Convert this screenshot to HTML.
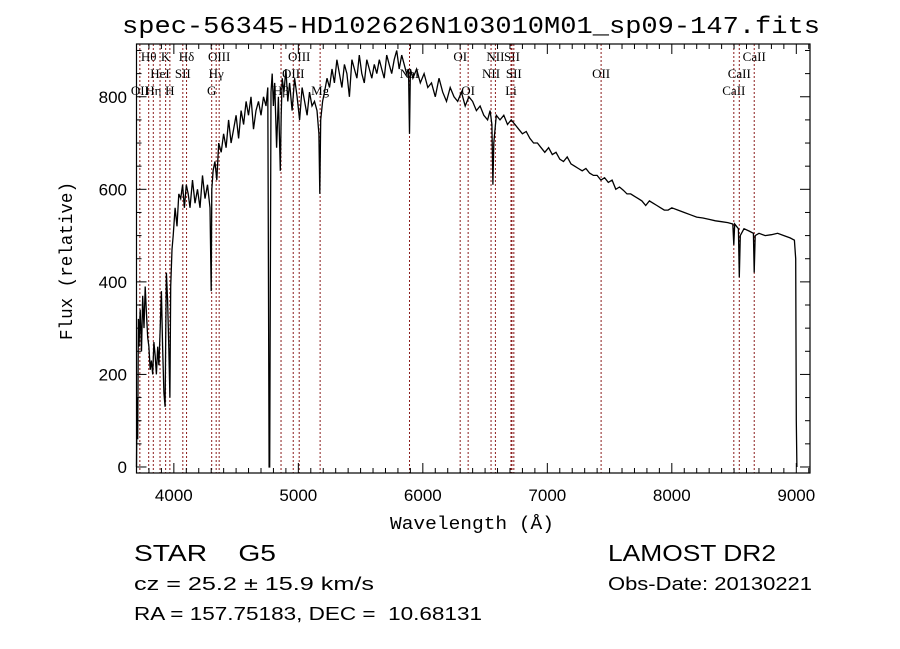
<!DOCTYPE html>
<html><head><meta charset="utf-8"><style>
html,body{margin:0;padding:0;background:#fff;width:900px;height:649px;overflow:hidden}
svg{display:block}
text{white-space:pre}
</style></head><body>
<svg id="chart" width="900" height="649" viewBox="0 0 900 649" xmlns="http://www.w3.org/2000/svg" xml:space="preserve">
<rect x="0" y="0" width="900" height="649" fill="#fff"/>
<text x="122" y="33" font-family="Liberation Mono, monospace" font-size="24" textLength="698" lengthAdjust="spacingAndGlyphs">spec-56345-HD102626N103010M01_sp09-147.fits</text>
<g id="lines"></g>
<g id="spec"></g>
<g id="axes"></g>
<text x="390" y="529" font-family="Liberation Mono, monospace" font-size="18" textLength="164" lengthAdjust="spacingAndGlyphs">Wavelength (Å)</text>
<text transform="translate(72,340) rotate(-90)" font-family="Liberation Mono, monospace" font-size="18" textLength="158" lengthAdjust="spacingAndGlyphs">Flux (relative)</text>
<text x="134" y="561" font-family="Liberation Sans Narrow, Liberation Sans, sans-serif" font-size="23" textLength="142" lengthAdjust="spacingAndGlyphs">STAR    G5</text>
<text x="608" y="561" font-family="Liberation Sans Narrow, Liberation Sans, sans-serif" font-size="23" textLength="168" lengthAdjust="spacingAndGlyphs">LAMOST DR2</text>
<text x="134" y="590" font-family="Liberation Sans Narrow, Liberation Sans, sans-serif" font-size="18" textLength="240" lengthAdjust="spacingAndGlyphs">cz = 25.2 ± 15.9 km/s</text>
<text x="608" y="590" font-family="Liberation Sans Narrow, Liberation Sans, sans-serif" font-size="18" textLength="204" lengthAdjust="spacingAndGlyphs">Obs-Date: 20130221</text>
<text x="134" y="620" font-family="Liberation Sans Narrow, Liberation Sans, sans-serif" font-size="18" textLength="348" lengthAdjust="spacingAndGlyphs">RA = 157.75183, DEC =  10.68131</text>
</svg>
<script>
const wl = [
3700,3705,3710,3715,3720,3730,3740,3750,3760,3770,
3780,3790,3800,3810,3820,3830,3840,3850,3860,3870,
3880,3890,3900,3910,3920,3930,3935,3940,3950,3960,
3968,3975,3985,3995,4010,4025,4040,4055,4070,4085,
4100,4115,4130,4150,4170,4190,4210,4230,4250,4270,
4290,4300,4305,4315,4330,4345,4360,4380,4400,4420,
4440,4460,4480,4500,4520,4540,4560,4580,4600,4620,
4640,4660,4680,4700,4720,4740,4755,4765,4770,4780,
4790,4800,4810,4825,4840,4855,4862,4870,4885,4900,
4915,4930,4950,4970,4990,5010,5030,5050,5070,5090,
5110,5130,5150,5165,5172,5180,5195,5210,5230,5250,
5270,5290,5310,5330,5350,5370,5390,5410,5430,5450,
5470,5490,5510,5530,5550,5570,5590,5610,5630,5650,
5670,5690,5710,5730,5750,5770,5790,5810,5830,5850,
5870,5885,5893,5900,5920,5950,5980,6010,6040,6070,
6100,6130,6160,6190,6220,6250,6280,6310,6340,6370,
6400,6430,6460,6490,6520,6540,6555,6563,6570,6590,
6620,6650,6680,6710,6740,6770,6800,6830,6860,6890,
6920,6950,6980,7010,7040,7070,7100,7130,7160,7190,
7220,7250,7280,7310,7340,7370,7400,7430,7460,7490,
7520,7550,7580,7610,7640,7670,7700,7730,7760,7790,
7820,7850,7880,7910,7940,7970,8000,8050,8100,8150,
8200,8250,8300,8350,8400,8450,8490,8498,8505,8520,
8535,8542,8550,8580,8620,8655,8662,8670,8700,8750,
8800,8850,8900,8950,8985,8995,9000,9005];
const fl = [
0,150,60,320,260,340,250,370,300,390,
330,280,260,210,230,200,270,240,200,260,
220,300,380,260,160,130,300,420,360,250,
150,390,470,500,560,520,590,580,610,560,
610,590,560,620,570,600,560,630,580,610,
560,380,600,640,660,620,700,680,720,690,
750,700,730,760,710,770,740,790,760,800,
730,770,790,760,800,780,820,0,0,810,
850,780,830,690,800,640,760,840,810,860,
790,830,770,840,800,750,820,790,760,810,
780,790,770,720,590,750,790,810,840,820,
860,830,880,850,820,870,850,800,880,860,
840,890,850,830,880,860,840,870,850,880,
860,840,890,870,850,880,900,860,890,870,
850,860,720,860,840,860,830,850,820,830,
800,840,810,790,820,800,790,810,780,800,
790,770,780,760,750,770,740,610,700,760,
750,760,740,750,740,730,720,725,710,700,
700,690,680,690,675,680,665,660,670,655,
650,645,640,645,635,630,630,620,625,615,
620,600,605,598,590,590,585,580,575,565,
575,570,565,560,555,555,560,555,550,545,
540,538,535,532,530,528,525,480,525,520,
515,410,500,515,510,505,420,500,505,500,
502,505,500,495,490,450,100,0];
const lineWl = [3727,3798,3835,3889,3934,3968,4072,4102,4304,4340,4364,4861,4959,5007,5175,5893,6300,6364,6548,6583,6708,6716,6731,7432,8498,8542,8662];
const lineLab = ["OII","Hθ","Hη","HeI","K","H","SII","Hδ","G","Hγ","OIII","Hβ","OIII","OIII","Mg","NaI","OI","OI","NII","NII","Li","SII","SII","OII","CaII","CaII","CaII"];
const lineRow = [3,1,3,2,1,3,2,1,3,2,1,3,2,1,3,2,1,3,2,1,3,1,2,2,3,2,1];
const xTicks = [4000,5000,6000,7000,8000,9000];
const yTicks = [0,200,400,600,800];

const L=136.5,R=810,T=44,B=473;
const X0=3700,X1=9110,Y0=-13,Y1=914;
const sx=v=>L+(v-X0)/(X1-X0)*(R-L);
const sy=v=>B-(v-Y0)/(Y1-Y0)*(B-T);
const NS="http://www.w3.org/2000/svg";
function mk(tag,attrs,parent){const e=document.createElementNS(NS,tag);for(const k in attrs)e.setAttribute(k,attrs[k]);parent.appendChild(e);return e;}

const gl=document.getElementById('lines');
const rowY={1:61,2:78,3:95};
lineWl.forEach((w,i)=>{
  const x=sx(w);
  const ln=mk('line',{x1:x,x2:x,y1:T,y2:B,stroke:'#8b1c1c','stroke-width':1,'stroke-dasharray':'2,2'},gl);
  
  
  const t=mk('text',{x:x,y:rowY[lineRow[i]],'text-anchor':'middle','font-family':'Liberation Serif, serif','font-size':13},gl);
  t.textContent=lineLab[i];
  
  
});

const gs=document.getElementById('spec');
let d='';
const n=Math.min(wl.length,fl.length);
for(let i=0;i<n;i++){d+=(i?'L':'M')+sx(wl[i]).toFixed(1)+','+sy(fl[i]).toFixed(1);}
const p=mk('path',{d:d,fill:'none',stroke:'#000','stroke-width':1.3,'stroke-linejoin':'miter'},gs);



const ga=document.getElementById('axes');
const fr=mk('rect',{x:L,y:T,width:R-L,height:B-T,fill:'none',stroke:'#000','stroke-width':1.2},ga);


for(let w=3800;w<=9100;w+=100){
  const x=sx(w);const maj=w%1000===0;const len=maj?10:5;
  mk('line',{x1:x,x2:x,y1:B,y2:B-len,stroke:'#000'},ga);
  mk('line',{x1:x,x2:x,y1:T,y2:T+len,stroke:'#000'},ga);
}
xTicks.forEach(v=>{
  const t=mk('text',{x:sx(v),y:501,'text-anchor':'middle','font-family':'Liberation Sans, sans-serif','font-size':17},ga);
  t.textContent=v;
  
  
});
for(let v=0;v<=900;v+=50){
  const y=sy(v);const maj=v%200===0;const len=maj?10:5;
  mk('line',{x1:L,x2:L+len,y1:y,y2:y,stroke:'#000'},ga);
  mk('line',{x1:R,x2:R-len,y1:y,y2:y,stroke:'#000'},ga);
}
yTicks.forEach(v=>{
  const t=mk('text',{x:127,y:sy(v)+6,'text-anchor':'end','font-family':'Liberation Sans, sans-serif','font-size':17},ga);
  t.textContent=v;
  
  
});
</script>
</body></html>
